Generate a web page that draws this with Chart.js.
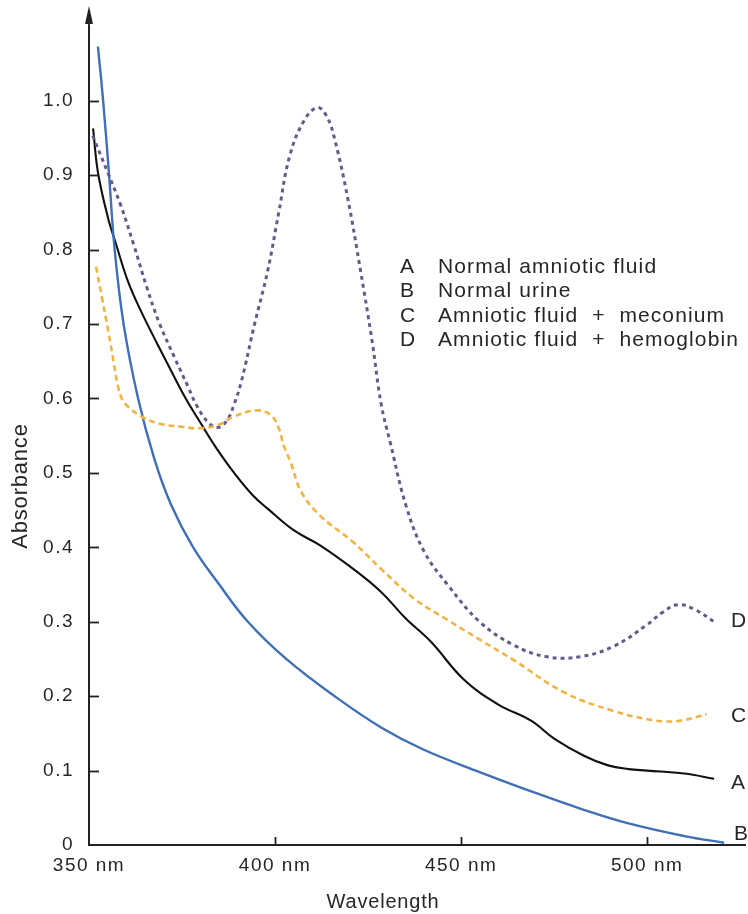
<!DOCTYPE html>
<html>
<head>
<meta charset="utf-8">
<title>Absorbance spectra</title>
<script src="https://cdn.jsdelivr.net/npm/chart.js@4/dist/chart.umd.min.js"></script>
<style>
  html, body { margin: 0; padding: 0; background: #fff; }
  #wrap { width: 748px; height: 914px; }
</style>
</head>
<body>
<div id="wrap"><canvas id="chart" width="748" height="914"></canvas></div>
<script>
/* spectra: wavelength (nm) vs absorbance */
const xTicks = [350, 400, 450, 500];
const yTicks = [0, 0.1, 0.2, 0.3, 0.4, 0.5, 0.6, 0.7, 0.8, 0.9, 1.0];

// A — normal amniotic fluid
const wlA  = [351.1, 352.4, 355.1, 357.3, 360.5, 364, 368.5, 372, 376, 380, 384, 389, 394, 398, 405, 412, 421, 428.5, 435, 441.9, 450.8, 459.9, 468.8, 475, 483, 489.5, 495, 500, 510, 518];
const absA = [0.963, 0.904, 0.843, 0.807, 0.757, 0.717, 0.672, 0.638, 0.60, 0.567, 0.535, 0.50, 0.47, 0.452, 0.423, 0.403, 0.371, 0.34, 0.305, 0.273, 0.222, 0.189, 0.167, 0.143, 0.12, 0.107, 0.102, 0.100, 0.096, 0.089];

// B — normal urine
const wlB  = [352.4, 353.8, 355.4, 356.9, 359.3, 363.2, 367.5, 372, 378, 385, 392.7, 403, 416, 428.5, 440, 455, 470, 482, 495, 510, 520.7];
const absB = [1.073, 1.0, 0.9, 0.8, 0.7, 0.6, 0.52, 0.458, 0.40, 0.35, 0.30, 0.25, 0.20, 0.158, 0.128, 0.098, 0.07, 0.049, 0.029, 0.012, 0.003];

// C — amniotic fluid + meconium
const wlC  = [351.9, 353.5, 355.2, 356.6, 357.8, 359, 360.5, 364, 369, 375, 380, 385, 389, 395.4, 399, 401, 402.4, 404.3, 407, 412, 421, 428.5, 437.4, 446.5, 455, 464, 477.7, 491, 500, 505, 510, 516];
const absC = [0.777, 0.735, 0.69, 0.65, 0.616, 0.598, 0.589, 0.576, 0.566, 0.562, 0.56, 0.565, 0.576, 0.584, 0.577, 0.56, 0.536, 0.513, 0.475, 0.443, 0.407, 0.371, 0.331, 0.302, 0.276, 0.249, 0.205, 0.18, 0.169, 0.166, 0.168, 0.176];

// D — amniotic fluid + hemoglobin
const wlD  = [351, 355, 358.5, 362, 365.5, 369, 373, 376.6, 379, 382, 384.5, 387, 389, 391, 394.5, 398, 401, 404, 408, 411.5, 414, 416, 419.5, 423, 426, 428.5, 431, 435.2, 440, 446.5, 455, 464, 473, 482, 491, 500, 504, 508.3, 513, 518];
const absD = [0.953, 0.904, 0.86, 0.807, 0.75, 0.70, 0.655, 0.616, 0.59, 0.568, 0.561, 0.57, 0.592, 0.624, 0.70, 0.771, 0.85, 0.927, 0.975, 0.991, 0.978, 0.949, 0.87, 0.771, 0.68, 0.593, 0.54, 0.456, 0.395, 0.349, 0.30, 0.269, 0.253, 0.253, 0.267, 0.296, 0.312, 0.323, 0.316, 0.30];

const legendRows = [
  ["A", "Normal amniotic fluid"],
  ["B", "Normal urine"],
  ["C", "Amniotic fluid  +  meconium"],
  ["D", "Amniotic fluid  +  hemoglobin"],
];

const FONT = "Liberation Sans, Arial, Helvetica, sans-serif";
const INK = "#262626";
const pts = (xs, ys) => xs.map((x, i) => ({ x, y: ys[i] }));

/* ---------------- extra drawing: arrow, inner ticks, labels ---------------- */
const decor = {
  id: "decor",
  beforeDraw(chart) { chart.ctx.letterSpacing = "1.5px"; },
  afterDraw(chart) {
    const { ctx, chartArea: a, scales: { x, y } } = chart;
    ctx.save();
    ctx.strokeStyle = "#222"; ctx.fillStyle = "#222"; ctx.lineWidth = 1.8;

    // arrow head on the absorbance axis
    ctx.beginPath();
    ctx.moveTo(a.left, 6); ctx.lineTo(a.left - 4, 24); ctx.lineTo(a.left + 4, 24); ctx.closePath(); ctx.fill();
    ctx.beginPath(); ctx.moveTo(a.left, 24); ctx.lineTo(a.left, a.top); ctx.stroke();

    // ticks pointing into the plot
    for (const v of yTicks) {
      if (v === 0) continue;
      const py = Math.round(y.getPixelForValue(v)) + 0.5;
      ctx.beginPath(); ctx.moveTo(a.left, py); ctx.lineTo(a.left + 10, py); ctx.stroke();
    }
    for (const v of xTicks) {
      if (v === 350) continue;
      const px = Math.round(x.getPixelForValue(v)) + 0.5;
      ctx.beginPath(); ctx.moveTo(px, a.bottom); ctx.lineTo(px, a.bottom - 8); ctx.stroke();
    }

    ctx.fillStyle = INK;
    ctx.letterSpacing = "1.1px";
    ctx.font = `21px ${FONT}`;
    ctx.textBaseline = "middle"; ctx.textAlign = "left";

    // legend block
    legendRows.forEach(([k, t], i) => {
      const ry = 267 + i * 24.4;
      ctx.fillText(k, 400, ry);
      ctx.fillText(t, 438, ry);
    });

    // curve end letters
    ctx.fillText("D", 731, 621);
    ctx.fillText("C", 731, 716);
    ctx.fillText("A", 731, 783);
    ctx.fillText("B", 734, 834);

    // axis titles
    ctx.textAlign = "center";
    ctx.letterSpacing = "0.8px";
    ctx.font = `20px ${FONT}`;
    ctx.fillText("Wavelength", 383, 902);
    ctx.font = `22px ${FONT}`;
    ctx.translate(21, 486); ctx.rotate(-Math.PI / 2);
    ctx.fillText("Absorbance", 0, 0);
    ctx.restore();
  },
};

const line = (data, color, width, dash) => ({
  data, borderColor: color, borderWidth: width, borderDash: dash || [],
  pointRadius: 0, fill: false, tension: 0.4, borderCapStyle: "butt",
});

new Chart(document.getElementById("chart"), {
  type: "line",
  data: {
    datasets: [
      line(pts(wlC, absC), "#f0b445", 2.6, [6, 4]),
      line(pts(wlD, absD), "#67598a", 3, [4, 4]),
      line(pts(wlB, absB), "#3f6fb5", 2.4),
      line(pts(wlA, absA), "#111111", 2.1),
    ],
  },
  options: {
    responsive: false, animation: false,
    layout: { padding: { top: 20, right: 3, left: 0, bottom: 0 } },
    plugins: { legend: { display: false }, tooltip: { enabled: false } },
    scales: {
      x: {
        type: "linear", min: 350, max: 526.3,
        afterFit: (s) => { s.height = 69; },
        afterBuildTicks: (s) => { s.ticks = xTicks.map((v) => ({ value: v })); },
        grid: { display: false, drawTicks: false },
        border: { display: true, color: "#222", width: 2 },
        ticks: { color: INK, padding: 9, maxRotation: 0, autoSkip: false,
                 font: { family: FONT, size: 19 }, callback: (v) => `${v} nm` },
      },
      y: {
        min: 0, max: 1.1,
        afterFit: (s) => { s.width = 89; },
        afterBuildTicks: (s) => { s.ticks = yTicks.map((v) => ({ value: v })); },
        grid: { display: false, drawTicks: false },
        border: { display: true, color: "#222", width: 2 },
        ticks: { color: INK, padding: 15,
                 font: { family: FONT, size: 19 }, callback: (v) => v === 0 ? "0" : v.toFixed(1) },
      },
    },
  },
  plugins: [decor],
});
</script>
</body>
</html>
